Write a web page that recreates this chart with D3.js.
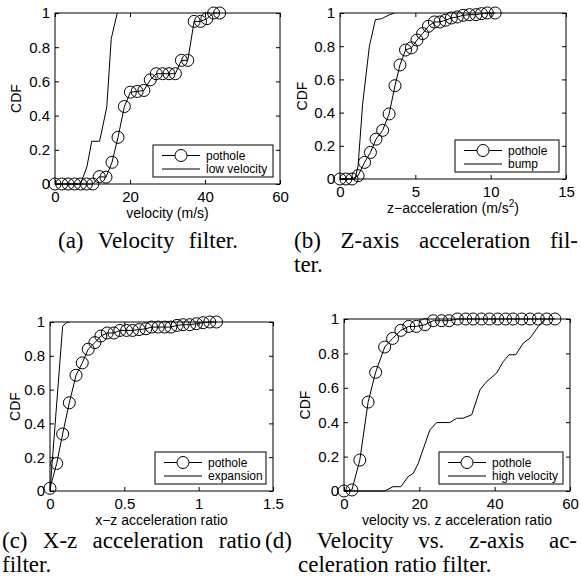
<!DOCTYPE html>
<html>
<head>
<meta charset="utf-8">
<script src="https://cdn.jsdelivr.net/npm/d3@7"></script>
<style>
  body { margin: 0; background: #fff; }
  svg { display: block; }
</style>
</head>
<body>
<svg id="fig" width="581" height="588"></svg>
<script>
// shared y axis of the four CDF panels
const yTicks = [0, 0.2, 0.4, 0.6, 0.8, 1];

// (a) velocity filter
const velTicks = [0, 20, 40, 60];
const velPotholeX = [0, 1.8, 3.5, 5.2, 6.8, 8.4, 10.1, 11.8, 13.6, 15.2, 16.8, 18.5, 20.1, 21.9, 23.7, 25.4, 27.0, 28.7, 30.4, 32.1, 33.7, 35.4, 37.1, 38.8, 40.5, 42.3, 43.9];
const velPotholeY = [0, 0, 0, 0, 0, 0, 0, 0.043, 0.04, 0.127, 0.273, 0.453, 0.537, 0.541, 0.547, 0.609, 0.645, 0.645, 0.645, 0.645, 0.723, 0.723, 0.951, 0.951, 0.967, 1, 1];
const velLowX = [0, 6.8, 8.5, 9.8, 11.9, 13.8, 15.0, 16.6];
const velLowY = [0, 0, 0.1, 0.25, 0.25, 0.45, 0.85, 1];

// (b) z-axis acceleration filter
const zAccTicks = [0, 5, 10, 15];
const zAccPotholeX = [0, 0.39, 0.8, 1.2, 1.63, 2.02, 2.39, 2.83, 3.26, 3.65, 3.98, 4.35, 4.74, 5.11, 5.48, 5.87, 6.26, 6.63, 7.0, 7.39, 7.78, 8.17, 8.59, 9.02, 9.39, 9.78, 10.3];
const zAccPotholeY = [0, 0, 0, 0.02, 0.1, 0.16, 0.24, 0.293, 0.392, 0.562, 0.687, 0.777, 0.79, 0.837, 0.876, 0.92, 0.946, 0.946, 0.956, 0.97, 0.976, 0.986, 0.99, 0.99, 0.996, 1, 1];
const zAccBumpX = [0, 1.0, 1.2, 1.5, 1.95, 2.35, 2.75, 3.3, 3.6];
const zAccBumpY = [0, 0, 0.08, 0.45, 0.8, 0.96, 0.965, 0.99, 1];

// (c) x-z acceleration ratio filter
const xzTicks = [0, 0.5, 1, 1.5];
const xzPotholeX = [0, 0.045, 0.085, 0.13, 0.175, 0.217, 0.257, 0.302, 0.342, 0.385, 0.43, 0.47, 0.515, 0.555, 0.6, 0.645, 0.683, 0.728, 0.772, 0.813, 0.855, 0.895, 0.94, 0.985, 1.03, 1.075, 1.12];
const xzPotholeY = [0.016, 0.163, 0.337, 0.522, 0.685, 0.758, 0.839, 0.878, 0.917, 0.935, 0.935, 0.95, 0.95, 0.95, 0.955, 0.96, 0.97, 0.97, 0.97, 0.97, 0.98, 0.984, 0.984, 0.99, 0.996, 1, 1];
const xzExpansionX = [0, 0.085, 0.11, 0.13];
const xzExpansionY = [0, 0.975, 0.995, 1];

// (d) velocity vs. z-axis acceleration ratio filter
const vzTicks = [0, 20, 40, 60];
const vzPotholeX = [0, 2.1, 4.2, 6.4, 8.4, 10.8, 12.9, 15.1, 17.2, 19.2, 21.5, 23.7, 25.9, 27.9, 30.1, 32.3, 34.3, 36.5, 38.6, 40.8, 42.9, 44.9, 47.2, 49.4, 51.6, 53.8, 56.0];
const vzPotholeY = [0, 0.006, 0.18, 0.517, 0.69, 0.837, 0.887, 0.934, 0.957, 0.957, 0.967, 0.99, 0.99, 0.99, 1, 1, 1, 1, 1, 1, 1, 1, 1, 1, 1, 1, 1];
const vzHighX = [0, 10.8, 13.0, 15.1, 17.0, 18.4, 19.7, 22.8, 24.6, 28.1, 29.9, 31.6, 33.9, 36.1, 37.9, 40.5, 42.3, 43.8, 45.6, 47.6, 49.4, 51.6, 53.4];
const vzHighY = [0, 0, 0.025, 0.025, 0.083, 0.103, 0.16, 0.355, 0.398, 0.398, 0.423, 0.423, 0.443, 0.588, 0.637, 0.685, 0.753, 0.792, 0.792, 0.86, 0.889, 0.957, 1];

const panels = [
  { box: [55, 13, 280, 184], xTicks: velTicks, ylabelX: 16,
    xlabel: ["velocity (m/s)"], legendW: 120,
    series: [
      { name: "pothole", x: velPotholeX, y: velPotholeY, marker: true },
      { name: "low velocity", x: velLowX, y: velLowY }
    ] },
  { box: [340, 13, 566, 179], xTicks: zAccTicks, ylabelX: 302,
    xlabel: ["z\u2212acceleration (m/s", "2", ")"], legendW: 104,
    series: [
      { name: "pothole", x: zAccPotholeX, y: zAccPotholeY, marker: true },
      { name: "bump", x: zAccBumpX, y: zAccBumpY }
    ] },
  { box: [50, 322, 273, 491], xTicks: xzTicks, ylabelX: 15,
    xlabel: ["x\u2212z acceleration ratio"], legendW: 111,
    series: [
      { name: "pothole", x: xzPotholeX, y: xzPotholeY, marker: true },
      { name: "expansion", x: xzExpansionX, y: xzExpansionY }
    ] },
  { box: [344, 319, 570, 491], xTicks: vzTicks, ylabelX: 305,
    xlabel: ["velocity vs. z acceleration ratio"], legendW: 124,
    series: [
      { name: "pothole", x: vzPotholeX, y: vzPotholeY, marker: true },
      { name: "high velocity", x: vzHighX, y: vzHighY }
    ] }
];

// w = justified line width, word spaces stretched to fit
const captions = [
  { text: "(a) Velocity filter.", x: 58, y: 248, w: 180 },
  { text: "(b) Z-axis acceleration fil-", x: 294, y: 248, w: 284 },
  { text: "ter.", x: 294, y: 272 },
  { text: "(c) X-z acceleration ratio", x: 2, y: 548, w: 259 },
  { text: "filter.", x: 2, y: 572 },
  { text: "(d) Velocity vs. z-axis ac-", x: 265, y: 548, w: 312 },
  { text: "celeration ratio filter.", x: 298, y: 572 }
];

const svg = d3.select("#fig");
const sans = "'Liberation Sans', Arial, sans-serif";
const fmt = d => String(d);

panels.forEach(p => {
  const [x0, y0, x1, y1] = p.box;
  const x = d3.scaleLinear().domain([p.xTicks[0], p.xTicks[p.xTicks.length - 1]]).range([x0, x1]);
  const y = d3.scaleLinear().domain([0, 1]).range([y1, y0]);
  const g = svg.append("g");

  // axes, ticks pointing inward like matlab
  const ax = g.append("g");
  ax.append("g").attr("transform", "translate(0," + y1 + ")")
    .call(d3.axisBottom(x).tickValues(p.xTicks).tickFormat(fmt).tickSize(-4).tickSizeOuter(0).tickPadding(7));
  ax.append("g").attr("transform", "translate(0," + y0 + ")")
    .call(d3.axisTop(x).tickValues(p.xTicks).tickSize(-4).tickSizeOuter(0).tickFormat(""));
  ax.append("g").attr("transform", "translate(" + x0 + ",0)")
    .call(d3.axisLeft(y).tickValues(yTicks).tickFormat(fmt).tickSize(-4).tickSizeOuter(0).tickPadding(5));
  ax.append("g").attr("transform", "translate(" + x1 + ",0)")
    .call(d3.axisRight(y).tickValues(yTicks).tickSize(-4).tickSizeOuter(0).tickFormat(""));
  ax.selectAll(".domain").remove();
  ax.selectAll("line").attr("stroke", "#000");
  ax.selectAll("text").attr("font-size", 15).attr("fill", "#000").attr("font-family", sans);

  const line = d3.line().x(d => x(d[0])).y(d => y(d[1]));
  p.series.forEach(s => {
    const pts = s.x.map((v, i) => [v, s.y[i]]);
    g.append("path").datum(pts)
      .attr("d", line).attr("fill", "none").attr("stroke", "#000").attr("stroke-width", 1);
    if (s.marker) {
      g.selectAll(null).data(pts).enter().append("circle")
        .attr("cx", d => x(d[0])).attr("cy", d => y(d[1])).attr("r", 6)
        .attr("fill", "none").attr("stroke", "#000").attr("stroke-width", 1);
    }
  });

  g.append("rect").attr("x", x0).attr("y", y0).attr("width", x1 - x0).attr("height", y1 - y0)
    .attr("fill", "none").attr("stroke", "#000").attr("stroke-width", 1);

  // axis labels
  const xl = g.append("text").attr("x", (x0 + x1) / 2).attr("y", y1 + 34)
    .attr("text-anchor", "middle").attr("font-family", sans).attr("font-size", 14);
  xl.append("tspan").text(p.xlabel[0]);
  if (p.xlabel.length > 1) {
    xl.append("tspan").attr("dy", -6).attr("font-size", 10).text(p.xlabel[1]);
    xl.append("tspan").attr("dy", 6).text(p.xlabel[2]);
  }
  g.append("text").attr("transform", "translate(" + p.ylabelX + "," + (y0 + y1) / 2 + ") rotate(-90)")
    .attr("text-anchor", "middle").attr("dy", "0.35em")
    .attr("font-family", sans).attr("font-size", 14).text("CDF");

  // legend, bottom right corner
  const lw = p.legendW, lh = 32;
  const lx = x1 - 7 - lw, ly = y1 - 7 - lh;
  const lg = g.append("g").attr("transform", "translate(" + lx + "," + ly + ")");
  lg.append("rect").attr("width", lw).attr("height", lh)
    .attr("fill", "#fff").attr("stroke", "#000").attr("stroke-width", 1);
  p.series.forEach((s, i) => {
    const ry = 10.5 + i * 13.5;
    lg.append("line").attr("x1", 9).attr("x2", 47).attr("y1", ry).attr("y2", ry)
      .attr("stroke", "#000").attr("stroke-width", 1);
    if (s.marker) {
      lg.append("circle").attr("cx", 28).attr("cy", ry).attr("r", 6)
        .attr("fill", "#fff").attr("stroke", "#000");
    }
    lg.append("text").attr("x", 53).attr("y", ry).attr("dy", "0.35em")
      .attr("font-family", sans).attr("font-size", 12).text(s.name);
  });
});

// sub-figure captions, justified like the latex column
captions.forEach(c => {
  const t = svg.append("text").attr("y", c.y)
    .attr("font-family", "'Liberation Serif', 'Times New Roman', serif")
    .attr("font-size", 23).attr("fill", "#000");
  const words = c.text.split(" ");
  const spans = words.map(w => t.append("tspan").text(w));
  const widths = spans.map(s => s.node().getComputedTextLength());
  const total = d3.sum(widths);
  const gap = (c.w && words.length > 1) ? (c.w - total) / (words.length - 1) : 0.25 * 23;
  let cx = c.x;
  spans.forEach((s, i) => { s.attr("x", cx); cx += widths[i] + gap; });
});
</script>
</body>
</html>
